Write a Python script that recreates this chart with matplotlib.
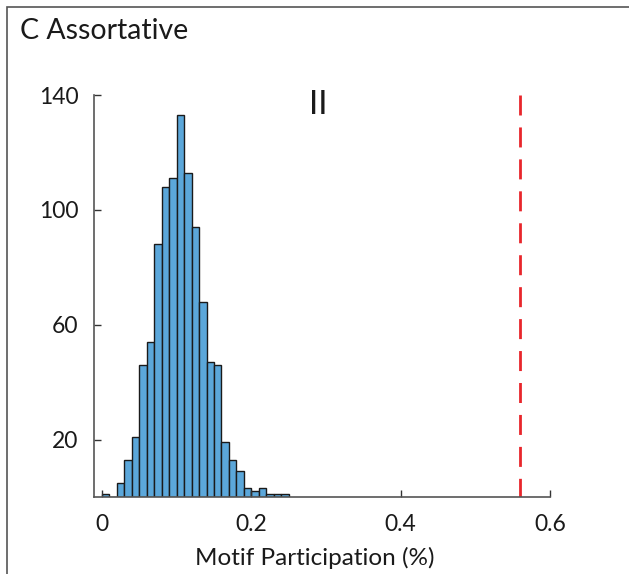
import numpy as np
import matplotlib.pyplot as plt
from matplotlib.patches import Rectangle

# histogram of motif participation in null networks (bin width 0.01)
bin_edges = np.round(np.arange(0, 0.2501, 0.01), 2)
counts = [1, 0, 5, 13, 21, 46, 54, 88, 108, 111, 133, 113, 94, 68, 47, 46,
          19, 13, 9, 3, 2, 3, 1, 1, 1]
observed = 0.56  # participation in the empirical network
yticks = [20, 60, 100, 140]
xticks = [0, 0.2, 0.4, 0.6]
xtick_labels = ["0", "0.2", "0.4", "0.6"]

plt.rcParams['font.family'] = ['Lato', 'DejaVu Sans']

fig = plt.figure(figsize=(6.29, 5.74), dpi=100)
ax = fig.add_axes([94 / 629, 77 / 574, 456 / 629, 402 / 574])

ax.bar(bin_edges[:-1], counts, width=0.01, align='edge', color='#5ba7da',
       edgecolor='#1a1a1a', linewidth=1.0)
# drawn top-down so the dash pattern starts at the top
ax.plot([observed, observed], [140, 0], color='#e8262b', lw=2.0,
        dashes=(7.2, 4.3))

ax.set_xlim(-0.0107, 0.6)
ax.set_ylim(0, 140)
ax.set_xticks(xticks)
ax.set_xticklabels(xtick_labels)
ax.set_yticks(yticks)
ax.tick_params(direction='in', length=5, width=1, colors='#333333',
               labelcolor='#1a1a1a', labelsize=16.5)
ax.tick_params(axis='x', pad=12)
ax.tick_params(axis='y', pad=11)
for side in ['top', 'right']:
    ax.spines[side].set_visible(False)
for side in ['left', 'bottom']:
    ax.spines[side].set_color('#555555')
    ax.spines[side].set_linewidth(1.2)

ax.set_xlabel("Motif Participation (%)", fontsize=17.5, color='#1a1a1a')
ax.xaxis.set_label_coords((315 - 94) / 456, -0.125)
ax.text(0.2895, 136.4, "II", fontsize=24, ha='center', va='center',
        color='#1a1a1a')

# panel frame and label
fig.patches.append(Rectangle((7 / 629, -0.1), 1.2, 1 - 7 / 574 + 0.1,
                             transform=fig.transFigure, fill=False,
                             edgecolor='#555555', linewidth=1.2))
fig.text(20 / 629, 1 - 31 / 574, "C Assortative", fontsize=20.5,
         va='center', ha='left', color='#1a1a1a')

fig.savefig("out.png", dpi=100)
